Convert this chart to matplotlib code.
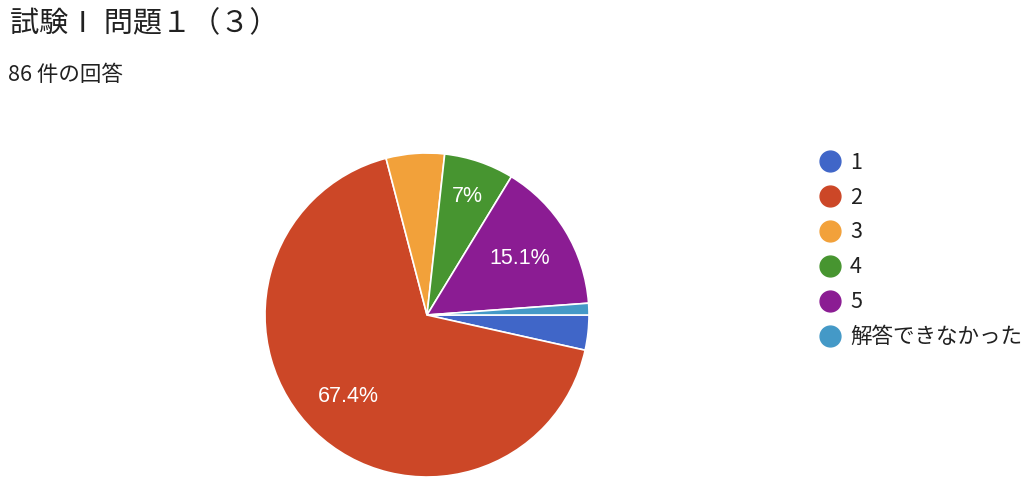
import numpy as np
import matplotlib.pyplot as plt
from matplotlib.lines import Line2D

plt.rcParams['font.family'] = ['Noto Sans CJK JP', 'DejaVu Sans']

title = "試験Ⅰ 問題１（３）"
subtitle = "86 件の回答"
labels = ["1", "2", "3", "4", "5", "解答できなかった"]
counts = [3, 58, 5, 6, 13, 1]
colors = ["#4066c8", "#cc4727", "#f2a13a", "#479530", "#8b1c93", "#4499c7"]

W, H = 1024, 488
fig = plt.figure(figsize=(W / 100, H / 100), dpi=100)

# pie axes: centre (427, 315) px, radius 162 px
cx, cy, r = 427, 315, 162
ax = fig.add_axes([(cx - r) / W, (H - cy - r) / H, 2 * r / W, 2 * r / H])

total = sum(counts)
wedges, _ = ax.pie(counts, colors=colors, startangle=0, counterclock=False,
                   wedgeprops=dict(edgecolor='white', linewidth=1.2))
ax.set_xlim(-1, 1)
ax.set_ylim(-1, 1)
ax.set_aspect('equal')
ax.axis('off')

# percentage labels only on slices big enough (Google style)
label_r = {"2": 0.70, "4": 0.77, "5": 0.67}
for w, lab, c in zip(wedges, labels, counts):
    pct = c / total * 100
    if pct < 6.5:
        continue
    mid = np.deg2rad((w.theta1 + w.theta2) / 2)
    rr = label_r.get(lab, 0.7)
    txt = f"{pct:.1f}".rstrip('0').rstrip('.') + "%"
    ax.text(rr * np.cos(mid), rr * np.sin(mid), txt, ha='center', va='center',
            color='white', fontsize=15.5, family=['Liberation Sans', 'DejaVu Sans'])

fig.text(10 / W, 1 - 24 / H, title, fontsize=21, color='#212121', va='center', ha='left')
fig.text(8 / W, 1 - 75 / H, subtitle, fontsize=15.5, color='#212121', va='center', ha='left')

handles = [Line2D([], [], marker='o', linestyle='', markersize=15,
                  markerfacecolor=c, markeredgecolor=c) for c in colors]
leg = fig.legend(handles, labels, loc='upper left', bbox_to_anchor=(808 / W, 1 - 143 / H),
                 frameon=False, fontsize=15.5, labelspacing=0.6, handletextpad=0.35,
                 handlelength=1.2, borderaxespad=0)
for t in leg.get_texts():
    t.set_color('#212121')

fig.savefig('out.png', dpi=100, facecolor='white')
